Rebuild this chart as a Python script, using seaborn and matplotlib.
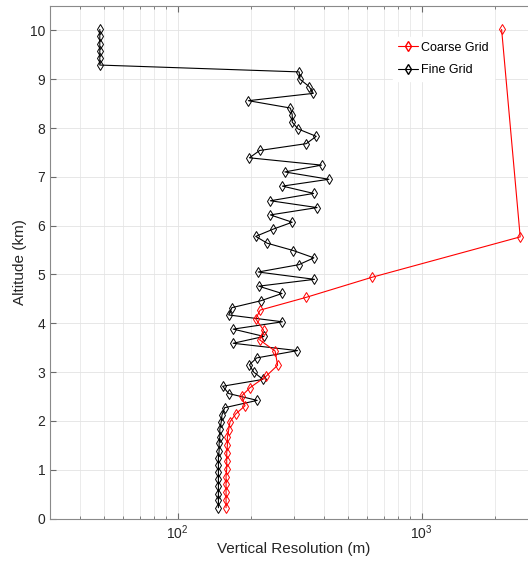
import matplotlib
matplotlib.use("Agg")
import matplotlib.pyplot as plt
import seaborn as sns
import pandas as pd
from matplotlib.lines import Line2D

# ---- data ----
fine_alt = [0.22, 0.37, 0.51, 0.66, 0.80, 0.95, 1.10, 1.24, 1.39, 1.54, 1.68, 1.83,
            1.98, 2.12, 2.27, 2.42, 2.56, 2.71, 2.85, 3.00, 3.15, 3.29, 3.44, 3.59,
            3.73, 3.88, 4.03, 4.17, 4.32, 4.46, 4.61, 4.76, 4.90, 5.05, 5.20, 5.34,
            5.49, 5.64, 5.78, 5.93, 6.07, 6.22, 6.37, 6.51, 6.66, 6.81, 6.95, 7.10,
            7.24, 7.39, 7.54, 7.68, 7.83, 7.98, 8.12, 8.27, 8.41, 8.56, 8.71, 8.85,
            9.00, 9.15, 9.29, 9.44, 9.58, 9.73, 9.88, 10.02]
fine_res = [147, 147, 147, 147, 147, 147, 147, 147, 148, 148, 149, 149, 151, 152, 156,
            212, 162, 153, 224, 205, 197, 211, 310, 169, 226,
            169, 269, 162, 167, 219, 268, 215, 364, 214, 314,
            362, 298, 233, 209, 247, 295, 240, 373, 240, 361,
            269, 417, 275, 389, 197, 217, 337, 370, 312, 295,
            295, 290, 195, 360, 346, 317, 315,
            48, 48, 48, 48, 48, 48]

coarse_alt = [0.22, 0.38, 0.54, 0.70, 0.86, 1.02, 1.18, 1.34, 1.50, 1.66, 1.82, 1.98,
              2.14, 2.31, 2.51, 2.68, 2.91, 3.14, 3.43, 3.66, 3.86, 4.09, 4.27, 4.53,
              4.94, 5.77, 10.02]
coarse_res = [158, 158, 158, 158, 158, 159, 159, 159, 160, 160, 162, 164,
              173, 189, 183, 198, 230, 257, 251, 217, 225, 209, 218, 336,
              624, 2536, 2128]

labels = ["Coarse Grid", "Fine Grid"]
y_ticks = list(range(0, 11))

# ---- style ----
sns.set_style("white")
plt.rcParams['font.family'] = ['Liberation Sans', 'DejaVu Sans']
text_col = "#262626"

fig = plt.figure(figsize=(5.28, 5.68), dpi=100)
ax = fig.add_axes([50/528, (568-518.5)/568, 488/528, 512.5/568])

fine_df = pd.DataFrame({"res": fine_res, "alt": fine_alt})
coarse_df = pd.DataFrame({"res": coarse_res, "alt": coarse_alt})

common = dict(sort=False, estimator=None, marker="d", markersize=5.5,
              markerfacecolor="none", markeredgewidth=0.7, linewidth=0.8)
sns.lineplot(data=fine_df, x="res", y="alt", ax=ax, color="black",
             markeredgecolor="black", **common)
sns.lineplot(data=coarse_df, x="res", y="alt", ax=ax, color="red",
             markeredgecolor="red", **common)

ax.set_xscale("log")
ax.set_xlim(30, 3000)
ax.set_ylim(0, 10.5)
ax.set_yticks(y_ticks)

ax.grid(which="major", color="#e3e3e3", linewidth=0.6)
ax.grid(which="minor", axis="x", color="#e8e8e8", linewidth=0.6)
ax.set_axisbelow(True)

ax.tick_params(which="both", direction="in", colors="#6b6b6b",
               labelcolor=text_col, labelsize=10, top=True, left=True, bottom=True)
ax.tick_params(which="major", length=4)
ax.tick_params(which="minor", length=2.5)
for s in ["left", "bottom", "top", "right"]:
    ax.spines[s].set_color("#8a8a8a")
    ax.spines[s].set_linewidth(0.8)

ax.set_xlabel("Vertical Resolution (m)", fontsize=11, color=text_col, labelpad=0)
ax.set_ylabel("Altitude (km)", fontsize=11, color=text_col, labelpad=2)

handles = [Line2D([], [], color="red", marker="d", markersize=5.5, markerfacecolor="none",
                  markeredgecolor="red", linewidth=0.8),
           Line2D([], [], color="black", marker="d", markersize=5.5, markerfacecolor="none",
                  markeredgecolor="black", linewidth=0.8)]
leg = ax.legend(handles, labels, loc="upper left", bbox_to_anchor=(0.69, 0.952),
                frameon=True, fontsize=9, handlelength=1.6, handletextpad=0.25,
                labelspacing=0.85, borderpad=0.4)
leg.get_frame().set_edgecolor("white")
leg.get_frame().set_facecolor("white")
leg.get_frame().set_alpha(1)
for t in leg.get_texts():
    t.set_color("black")

fig.savefig("out.png", dpi=100)
